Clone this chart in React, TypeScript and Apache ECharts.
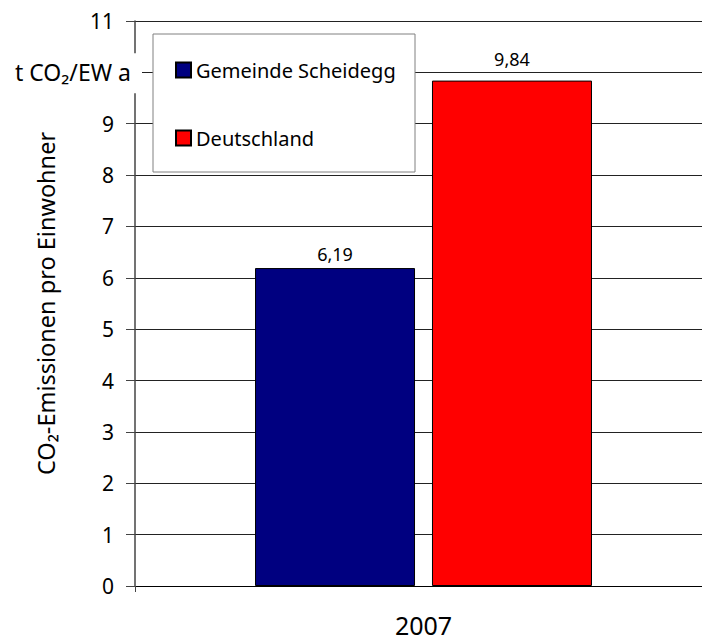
import React, { useEffect, useRef } from "react";
import * as echarts from "echarts";

// Per-capita CO2 emissions, 2007
const categories = ["2007"];
const seriesNames = ["Gemeinde Scheidegg", "Deutschland"];
const scheideggValues = [6.19];
const deutschlandValues = [9.84];
const yTicks = { min: 0, max: 11, interval: 1 };
const unitLabel = "t CO\u2082/EW a";
const unitTickValue = 10;

const FONT = "'Noto Sans', 'DejaVu Sans', sans-serif";

const fmt = (v: number) => v.toFixed(2).replace(".", ",");

export default function App() {
  const ref = useRef<HTMLDivElement>(null);

  useEffect(() => {
    if (!ref.current) return;
    const chart = echarts.init(ref.current, undefined, { renderer: "svg" });

    chart.setOption({
      animation: false,
      backgroundColor: "#ffffff",
      textStyle: { fontFamily: FONT },
      grid: { left: 135, right: 0, top: 21, bottom: 54, containLabel: false },
      legend: {
        orient: "vertical",
        left: 175,
        top: 60,
        padding: 0,
        itemGap: 48,
        itemWidth: 15,
        itemHeight: 15,
        icon: "rect",
        z: 10,
        textStyle: { fontFamily: FONT, fontSize: 20, color: "#000", lineHeight: 20 },
        data: seriesNames,
      },
      xAxis: {
        type: "category",
        data: categories,
        axisLine: { lineStyle: { color: "#000", width: 1 } },
        axisTick: { show: true, length: 6, lineStyle: { color: "#444" } },
        axisLabel: { fontFamily: FONT, fontSize: 25, color: "#000", margin: 26 },
      },
      yAxis: {
        type: "value",
        min: yTicks.min,
        max: yTicks.max,
        interval: yTicks.interval,
        name: "CO\u2082-Emissionen pro Einwohner",
        nameLocation: "middle",
        nameRotate: 90,
        nameGap: 77,
        nameTextStyle: { fontFamily: FONT, fontSize: 23.5, color: "#000" },
        axisLine: { show: true, lineStyle: { color: "#444", width: 1.5 } },
        axisTick: { show: true, length: 9, lineStyle: { color: "#444" } },
        axisLabel: {
          fontFamily: FONT,
          fontSize: 21,
          color: "#000",
          margin: 21,
          formatter: (v: number) => (v === unitTickValue ? "" : String(v)),
        },
        splitLine: { show: true, lineStyle: { color: "#222", width: 1 } },
      },
      series: [
        {
          name: seriesNames[0],
          type: "bar",
          data: scheideggValues,
          barWidth: 160,
          barGap: "10.6%",
          itemStyle: { color: "#000080", borderColor: "#000", borderWidth: 1 },
          label: {
            show: true,
            position: "top",
            distance: 5,
            fontFamily: FONT,
            fontSize: 18,
            color: "#000",
            formatter: (p: any) => fmt(p.value),
          },
        },
        {
          name: seriesNames[1],
          type: "bar",
          data: deutschlandValues,
          barWidth: 160,
          itemStyle: { color: "#ff0000", borderColor: "#000", borderWidth: 1 },
          label: {
            show: true,
            position: "top",
            distance: 13,
            fontFamily: FONT,
            fontSize: 18,
            color: "#000",
            formatter: (p: any) => fmt(p.value),
          },
        },
      ],
    });

    // Unit label sits in place of the "10" tick, masking the axis line behind it
    const yUnit = chart.convertToPixel({ yAxisIndex: 0 }, unitTickValue) as number;
    chart.setOption({
      graphic: [
        {
          type: "rect",
          z: 3,
          shape: { x: 8, y: yUnit - 19, width: 134, height: 40 },
          style: { fill: "#ffffff" },
        },
        {
          type: "text",
          z: 5,
          x: 131,
          y: yUnit,
          style: {
            text: unitLabel,
            fontFamily: FONT,
            fontSize: 23,
            fill: "#000",
            align: "right",
            verticalAlign: "middle",
          },
        },
        {
          type: "rect",
          z: 3,
          shape: { x: 153, y: 34, width: 262, height: 138 },
          style: { fill: "#ffffff", stroke: "#808080", lineWidth: 1 },
        },
      ],
    });

    return () => chart.dispose();
  }, []);

  // The plot runs a little past the right edge of the frame
  return (
    <div
      style={{
        position: "absolute",
        left: 0,
        top: 0,
        width: 702,
        height: 640,
        overflow: "hidden",
      }}
    >
      <div ref={ref} style={{ width: 712, height: 640 }} />
    </div>
  );
}
